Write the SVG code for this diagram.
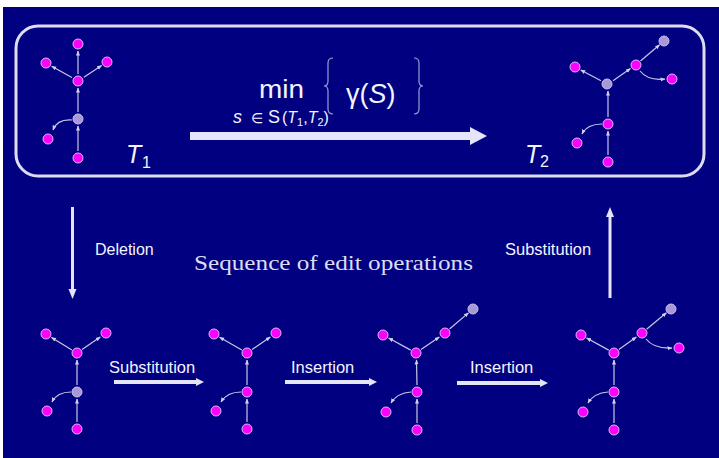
<svg xmlns="http://www.w3.org/2000/svg" width="719" height="458" viewBox="0 0 719 458">
<defs>
<style>
.bg{fill:#000080}
.frame{fill:none;stroke:#dcdcf4;stroke-width:3}
.n{fill:#ff00ff;stroke:#d8b8f0;stroke-width:1}
.p{fill:#a898d8;stroke:#c8c0ec;stroke-width:1}
.e{fill:none;stroke:#c8c8e8;stroke-width:1.2;marker-end:url(#ah)}
.big{stroke:#e4e4fa;fill:none}
.head{fill:#e4e4fa}
.lbl{font-family:"Liberation Sans",Arial,sans-serif;fill:#f4f4ff}
.ser{font-family:"Liberation Serif","DejaVu Serif",serif;fill:#dcdcf2}
.brace{fill:none;stroke:#9c9cd4;stroke-width:1.2}
</style>
<marker id="ah" viewBox="0 0 10 10" refX="9" refY="5" markerWidth="5" markerHeight="5" markerUnits="userSpaceOnUse" orient="auto">
<path d="M0,1 L10,5 L0,9 z" fill="#d0d0f0"/>
</marker>
</defs>
<rect width="719" height="458" fill="#ffffff"/>
<rect class="bg" x="3" y="7" width="716" height="451"/>
<rect class="frame" x="16" y="26" width="688" height="150" rx="22" ry="22"/>

<g id="connectors">
<!-- T1 -->
<line class="e" x1="78" y1="151" x2="78" y2="126"/>
<line class="e" x1="78" y1="112" x2="78" y2="88"/>
<line class="e" x1="78" y1="74" x2="78" y2="51"/>
<line class="e" x1="71.9" y1="77.6" x2="51.7" y2="66.2"/>
<line class="e" x1="83.9" y1="77.2" x2="101.6" y2="65.6"/>
<path class="e" d="M72,120 Q57,119 53,130"/>
<!-- T2 -->
<line class="e" x1="608" y1="155" x2="608" y2="131"/>
<line class="e" x1="608" y1="117" x2="608" y2="91"/>
<line class="e" x1="601" y1="80.8" x2="580.7" y2="70"/>
<line class="e" x1="613" y1="80.7" x2="630.5" y2="68.6"/>
<line class="e" x1="640.5" y1="61" x2="659.6" y2="44.8"/>
<path class="e" d="M640,71 Q648,81 665,79"/>
<path class="e" d="M602,124 Q587,124 582,134"/>
<!-- B1 -->
<line class="e" x1="77" y1="422" x2="77" y2="399"/>
<line class="e" x1="77" y1="385" x2="77" y2="360"/>
<line class="e" x1="71.9" y1="349.9" x2="51.5" y2="337.4"/>
<line class="e" x1="82" y1="349.6" x2="100.3" y2="337"/>
<path class="e" d="M71,392 Q57,392 52,402"/>
<!-- B2 -->
<line class="e" x1="247" y1="422" x2="247" y2="399"/>
<line class="e" x1="247" y1="385" x2="247" y2="360"/>
<line class="e" x1="241.8" y1="350" x2="219.6" y2="337.3"/>
<line class="e" x1="252" y1="349.6" x2="270.3" y2="337"/>
<path class="e" d="M241,392 Q227,392 221,402"/>
<!-- B3 -->
<line class="e" x1="417" y1="423" x2="417" y2="399"/>
<line class="e" x1="417" y1="385" x2="416.5" y2="360"/>
<line class="e" x1="410.7" y1="350.1" x2="388.6" y2="338"/>
<line class="e" x1="421" y1="349.6" x2="439.3" y2="337"/>
<line class="e" x1="449.5" y1="329" x2="468.5" y2="312.9"/>
<path class="e" d="M411,392 Q397,393 391,403"/>
<!-- B4 -->
<line class="e" x1="614" y1="423" x2="614" y2="399"/>
<line class="e" x1="614" y1="385" x2="614" y2="360"/>
<line class="e" x1="608.7" y1="350.1" x2="586.6" y2="338"/>
<line class="e" x1="618.9" y1="349.5" x2="636.3" y2="337"/>
<line class="e" x1="646.6" y1="329.2" x2="666.4" y2="312.8"/>
<path class="e" d="M646,339 Q654,349 672,348"/>
<path class="e" d="M608,392 Q594,393 588,403"/>

<!-- big operation arrows -->
<line class="big" x1="190" y1="136" x2="472" y2="136" stroke-width="8"/>
<polygon class="head" points="470,127 487,136 470,145"/>
<line class="big" x1="72.5" y1="207" x2="72.5" y2="291" stroke-width="3"/>
<polygon class="head" points="68.5,289 72.5,299 76.5,289"/>
<line class="big" x1="610" y1="298" x2="610" y2="215" stroke-width="3"/>
<polygon class="head" points="606,217 610,207 614,217"/>
<line class="big" x1="114" y1="382" x2="197" y2="382" stroke-width="4"/>
<polygon class="head" points="196,378 204,382 196,386"/>
<line class="big" x1="285" y1="382" x2="370" y2="382" stroke-width="4"/>
<polygon class="head" points="369,378 377,382 369,386"/>
<line class="big" x1="457" y1="383" x2="541" y2="383" stroke-width="4"/>
<polygon class="head" points="540,379 548,383 540,387"/>
</g>

<g id="T1">
<circle class="n" cx="78" cy="44" r="5"/>
<circle class="n" cx="46" cy="63" r="5"/>
<circle class="n" cx="107" cy="62" r="5"/>
<circle class="n" cx="78" cy="81" r="5"/>
<circle class="p" cx="78" cy="119" r="5"/>
<circle class="n" cx="48" cy="139" r="5"/>
<circle class="n" cx="78" cy="158" r="5"/>
<text class="lbl" x="126" y="163" font-size="25" font-style="italic">T</text>
<text class="lbl" x="142" y="168" font-size="16">1</text>
</g>

<g id="T2">
<circle class="p" cx="664" cy="41" r="5"/>
<circle class="n" cx="636" cy="65" r="5"/>
<circle class="n" cx="672" cy="79" r="5"/>
<circle class="n" cx="575" cy="67" r="5"/>
<circle class="p" cx="607" cy="84" r="5"/>
<circle class="n" cx="608" cy="124" r="5"/>
<circle class="n" cx="577" cy="143" r="5"/>
<circle class="n" cx="608" cy="162" r="5"/>
<text class="lbl" x="525" y="163" font-size="25" font-style="italic">T</text>
<text class="lbl" x="540" y="167" font-size="16">2</text>
</g>

<g id="formula">
<text class="lbl" x="259" y="98" font-size="26" textLength="45" lengthAdjust="spacingAndGlyphs">min</text>
<path class="brace" d="M333,58 Q328,58 328,63 L328,81 Q328,86 324,86 Q328,86 328,91 L328,109 Q328,114 333,114"/>
<path class="brace" d="M414,58 Q419,58 419,63 L419,81 Q419,86 423,86 Q419,86 419,91 L419,109 Q419,114 414,114"/>
<text class="lbl" x="346" y="103" font-size="27">γ(<tspan font-style="italic">S</tspan>)</text>
<text class="lbl" x="233" y="123" font-size="18" font-style="italic">s</text>
<text class="lbl" x="251" y="123" font-size="14">∈</text>
<text class="lbl" x="268" y="123" font-size="18">S</text>
<text class="lbl" x="282" y="123" font-size="16">(<tspan font-style="italic">T</tspan><tspan font-size="11" dy="3">1</tspan><tspan dy="-3">,</tspan><tspan font-style="italic">T</tspan><tspan font-size="11" dy="3">2</tspan><tspan dy="-3">)</tspan></text>
</g>

<g id="B1">
<circle class="n" cx="46" cy="334" r="5"/>
<circle class="n" cx="106" cy="333" r="5"/>
<circle class="n" cx="77" cy="353" r="5"/>
<circle class="p" cx="77" cy="392" r="5"/>
<circle class="n" cx="47" cy="411" r="5"/>
<circle class="n" cx="77" cy="429" r="5"/>
</g>
<g id="B2">
<circle class="n" cx="214" cy="334" r="5"/>
<circle class="n" cx="276" cy="333" r="5"/>
<circle class="n" cx="247" cy="353" r="5"/>
<circle class="n" cx="247" cy="392" r="5"/>
<circle class="n" cx="216" cy="411" r="5"/>
<circle class="n" cx="247" cy="429" r="5"/>
</g>
<g id="B3">
<circle class="p" cx="473" cy="309" r="5"/>
<circle class="n" cx="445" cy="333" r="5"/>
<circle class="n" cx="383" cy="335" r="5"/>
<circle class="n" cx="416" cy="353" r="5"/>
<circle class="n" cx="417" cy="392" r="5"/>
<circle class="n" cx="386" cy="412" r="5"/>
<circle class="n" cx="417" cy="430" r="5"/>
</g>
<g id="B4">
<circle class="p" cx="671" cy="309" r="5"/>
<circle class="n" cx="642" cy="333" r="5"/>
<circle class="n" cx="679" cy="348" r="5"/>
<circle class="n" cx="581" cy="335" r="5"/>
<circle class="n" cx="614" cy="353" r="5"/>
<circle class="n" cx="614" cy="392" r="5"/>
<circle class="n" cx="583" cy="412" r="5"/>
<circle class="n" cx="614" cy="430" r="5"/>
</g>

<g id="labels">
<text class="lbl" x="95" y="255" font-size="16">Deletion</text>
<text class="lbl" x="505" y="255" font-size="16.5">Substitution</text>
<text class="ser" x="194" y="270" font-size="21" textLength="279" lengthAdjust="spacingAndGlyphs">Sequence of edit operations</text>
<text class="lbl" x="109" y="373" font-size="16.5">Substitution</text>
<text class="lbl" x="291" y="373" font-size="16.5">Insertion</text>
<text class="lbl" x="470" y="373" font-size="16.5">Insertion</text>
</g>
</svg>
